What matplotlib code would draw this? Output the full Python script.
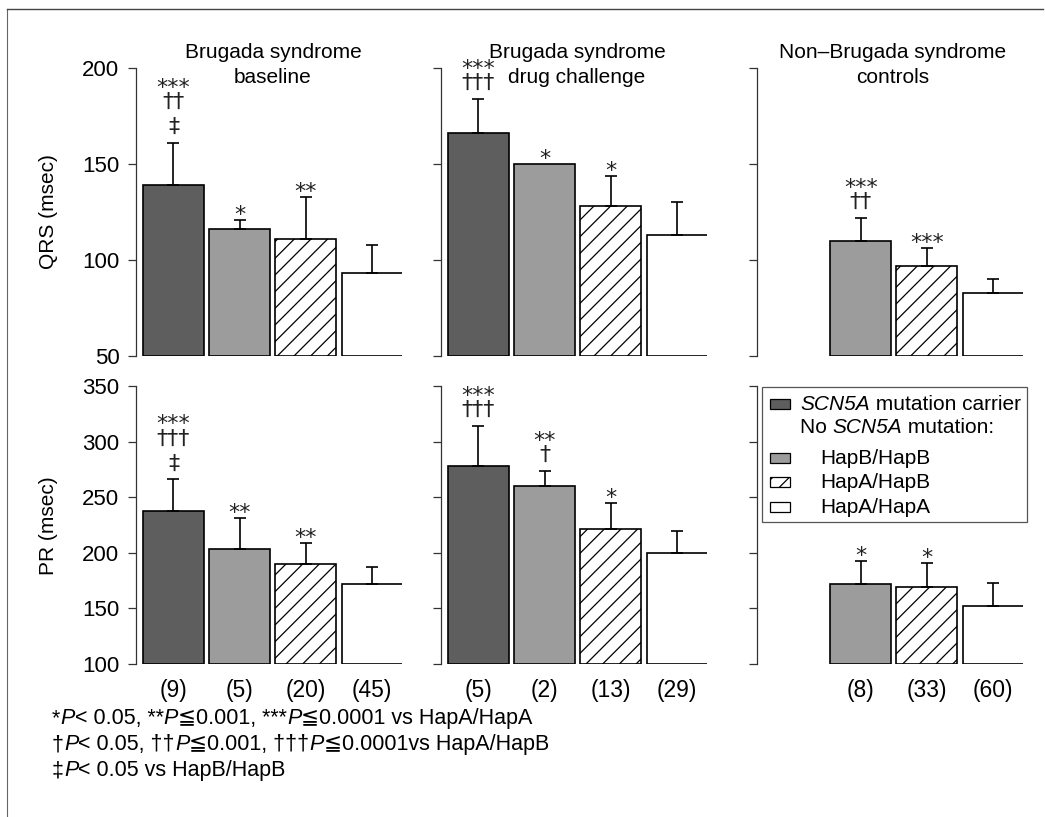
import matplotlib
matplotlib.use("Agg")
import matplotlib.pyplot as plt
from matplotlib.patches import Rectangle
from matplotlib.lines import Line2D
from matplotlib.transforms import blended_transform_factory

plt.rcParams['font.family'] = ['Liberation Sans', 'DejaVu Sans']
plt.rcParams['hatch.linewidth'] = 0.9

W, H = 1045, 817

# ── Data ──────────────────────────────────────────────────────────────── #
group_colors = ['#5e5e5e', '#9c9c9c', 'white', 'white']
group_hatch = ['', '', '//', '']

qrs_base = [139, 116, 111, 93]
qrs_base_err = [22, 5, 22, 15]
qrs_drug = [166, 150, 128, 113]
qrs_drug_err = [18, 0, 16, 17]
qrs_ctrl = [110, 97, 83]
qrs_ctrl_err = [12, 9, 7]

pr_base = [238, 203, 190, 172]
pr_base_err = [28, 28, 19, 15]
pr_drug = [278, 260, 221, 200]
pr_drug_err = [36, 14, 24, 20]
pr_ctrl = [172, 169, 152]
pr_ctrl_err = [21, 22, 21]

# significance marks, listed bottom-to-top above each bar
qrs_base_sig = [["‡", "††", "***"], ["*"], ["**"], []]
qrs_drug_sig = [["†††", "***"], ["*"], ["*"], []]
qrs_ctrl_sig = [["††", "***"], ["***"], []]
pr_base_sig = [["‡", "†††", "***"], ["**"], ["**"], []]
pr_drug_sig = [["†††", "***"], ["†", "**"], ["*"], []]
pr_ctrl_sig = [["*"], ["*"], []]

n_base = ["(9)", "(5)", "(20)", "(45)"]
n_drug = ["(5)", "(2)", "(13)", "(29)"]
n_ctrl = ["(8)", "(33)", "(60)"]

titles = ["Brugada syndrome\nbaseline",
          "Brugada syndrome\ndrug challenge",
          "Non\u2013Brugada syndrome\ncontrols"]

qrs_ticks = [50, 100, 150, 200]
pr_ticks = [100, 150, 200, 250, 300, 350]


def fx(x):
    return x / W


def fy(y):
    return 1 - y / H


fig = plt.figure(figsize=(W / 100, H / 100), dpi=100)

# thin frame round the figure (left and top edges only are visible)
fig.add_artist(Line2D([fx(7), fx(7)], [fy(9), fy(817)], color='#666666', lw=0.8))
fig.add_artist(Line2D([fx(7), fx(1043)], [fy(9), fy(9)], color='#444444', lw=1.0))

col_left = [136, 441, 757]
ax_w = 266
XLIM = (-0.566, 3.45)


def make_axes(left, top, bottom):
    return fig.add_axes([fx(left), fy(bottom), fx(ax_w), (bottom - top) / H])


def draw_panel(ax, pos, vals, errs, colors, hatches, sigs, ylim, ticks, show_labels):
    ax.set_xlim(*XLIM)
    ax.set_ylim(*ylim)
    ax.patch.set_alpha(0)
    for s in ['top', 'right', 'bottom']:
        ax.spines[s].set_visible(False)
    ax.spines['left'].set_color('#333333')
    ax.spines['left'].set_linewidth(0.9)
    ax.set_xticks([])
    ax.set_yticks(ticks)
    ax.tick_params(axis='y', direction='out', length=6, width=0.9,
                   color='#333333', pad=6, labelsize=16)
    if not show_labels:
        ax.set_yticklabels([])
    for p, v, e, c, h, sig in zip(pos, vals, errs, colors, hatches, sigs):
        ax.bar(p, v - ylim[0], bottom=ylim[0], width=0.92, color=c,
               edgecolor='black', linewidth=1.2, hatch=h, zorder=2)
        if e > 0:
            ax.errorbar(p, v, yerr=[[0], [e]], fmt='none', ecolor='black',
                        elinewidth=1.2, capsize=4, capthick=1.2, zorder=3)
        # stack the marks above the error bar
        ink = 6
        for row in sig:
            if '*' in row:
                base = ink - 7
                step = 14
            else:
                base = ink + 4
                step = 25
            ax.annotate(row, xy=(p, v + e), xytext=(0, base),
                        textcoords='offset pixels', ha='center', va='baseline',
                        fontsize=16, family='DejaVu Sans', color='#222222',
                        annotation_clip=False, zorder=4)
            ink += step


rows = [(68, 356, (50, 200), qrs_ticks), (386, 664, (100, 350), pr_ticks)]
panels = [
    [(range(4), qrs_base, qrs_base_err, group_colors, group_hatch, qrs_base_sig),
     (range(4), qrs_drug, qrs_drug_err, group_colors, group_hatch, qrs_drug_sig),
     (range(1, 4), qrs_ctrl, qrs_ctrl_err, group_colors[1:], group_hatch[1:], qrs_ctrl_sig)],
    [(range(4), pr_base, pr_base_err, group_colors, group_hatch, pr_base_sig),
     (range(4), pr_drug, pr_drug_err, group_colors, group_hatch, pr_drug_sig),
     (range(1, 4), pr_ctrl, pr_ctrl_err, group_colors[1:], group_hatch[1:], pr_ctrl_sig)],
]

bottom_axes = []
for r, (top, bottom, ylim, ticks) in enumerate(rows):
    for c in range(3):
        ax = make_axes(col_left[c], top, bottom)
        draw_panel(ax, *panels[r][c], ylim, ticks, show_labels=(c == 0))
        if r == 1:
            bottom_axes.append(ax)

# panel titles
title_x = [273, 577, 893]
for x, t in zip(title_x, titles):
    fig.text(fx(x), fy(65), t, ha='center', va='center', fontsize=15,
             linespacing=1.4)

# y-axis labels
fig.text(fx(49), fy(212), "QRS (msec)", rotation=90, ha='center', va='center', fontsize=15)
fig.text(fx(49), fy(526), "PR (msec)", rotation=90, ha='center', va='center', fontsize=15)

# group sizes under the bars
for ax, pos, labels in zip(bottom_axes, [range(4), range(4), range(1, 4)],
                           [n_base, n_drug, n_ctrl]):
    tr = blended_transform_factory(ax.transData, fig.transFigure)
    for p, lab in zip(pos, labels):
        ax.text(p, fy(690), lab, transform=tr, ha='center', va='center', fontsize=16.5)

renderer = fig.canvas.get_renderer()


def draw_runs(x_px, base_px, runs, size):
    """Write text pieces one after the other on one baseline."""
    x = fx(x_px)
    for txt, italic in runs:
        t = fig.text(x, fy(base_px), txt, ha='left', va='baseline', fontsize=size,
                     style='italic' if italic else 'normal')
        bb = t.get_window_extent(renderer)
        x = bb.x1 / W


# legend
fig.add_artist(Rectangle((fx(762), fy(522)), fx(1027 - 762), (522 - 387) / H,
                         facecolor='white', edgecolor='#555555', lw=0.9))
legend_rows = [(404, group_colors[0], group_hatch[0]),
               (458, group_colors[1], group_hatch[1]),
               (482, group_colors[2], group_hatch[2]),
               (507, group_colors[3], group_hatch[3])]
for yc, col, h in legend_rows:
    fig.add_artist(Rectangle((fx(770), fy(yc + 5)), fx(20), 10 / H, facecolor=col,
                             edgecolor='black', lw=0.9, hatch=h))
draw_runs(800, 410, [("SCN5A", True), (" mutation carrier", False)], 15)
draw_runs(800, 433, [("No ", False), ("SCN5A", True), (" mutation:", False)], 15)
draw_runs(820, 464, [("HapB/HapB", False)], 15)
draw_runs(820, 488, [("HapA/HapB", False)], 15)
draw_runs(820, 513, [("HapA/HapA", False)], 15)

# footnotes
fs = 15.5
draw_runs(52, 724, [("*", False), ("P", True), ("< 0.05, **", False), ("P", True),
                    ("\u22660.001, ***", False), ("P", True),
                    ("\u22660.0001 vs HapA/HapA", False)], fs)
draw_runs(52, 750, [("\u2020", False), ("P", True), ("< 0.05, \u2020\u2020", False), ("P", True),
                    ("\u22660.001, \u2020\u2020\u2020", False), ("P", True),
                    ("\u22660.0001vs HapA/HapB", False)], fs)
draw_runs(52, 776, [("\u2021", False), ("P", True), ("< 0.05 vs HapB/HapB", False)], fs)

fig.savefig("out.png", dpi=100)
